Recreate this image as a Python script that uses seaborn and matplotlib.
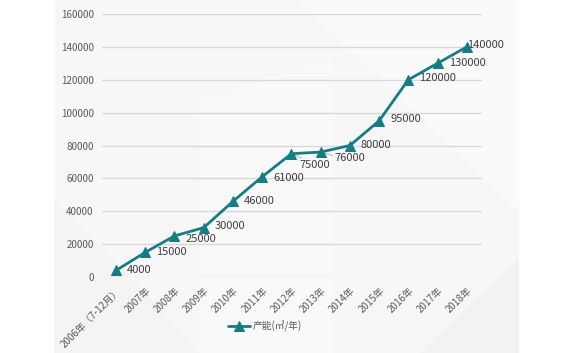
import matplotlib
matplotlib.use("Agg")
import matplotlib.pyplot as plt
import seaborn as sns
import pandas as pd
from matplotlib.patches import Rectangle, Polygon

# data
years = ["2006年（7-12月）", "2007年", "2008年", "2009年", "2010年", "2011年", "2012年",
         "2013年", "2014年", "2015年", "2016年", "2017年", "2018年"]
capacity = [4000, 15000, 25000, 30000, 46000, 61000, 75000, 76000, 80000, 95000,
            120000, 130000, 140000]
yticks = [0, 20000, 40000, 60000, 80000, 100000, 120000, 140000, 160000]
series_name = "产能(㎡/年)"

# label offsets in points (dx, dy) relative to each point
label_offsets = [(8, 0), (8, 0), (8, -2), (8, 1), (8, 0), (8, -1), (6, -8),
                 (10, -4), (8, 0), (8, 1), (8, 1), (8, 0), (0, 1)]

df = pd.DataFrame({"year": years, "capacity": capacity, "series": series_name})

sns.set_theme(style="white")
plt.rcParams['font.family'] = ['Noto Sans CJK SC', 'DejaVu Sans']

teal = "#167d85"
fig = plt.figure(figsize=(5.76, 3.53), dpi=100)

# light backdrop panel with faint facets
fig.patches.append(Rectangle((55 / 576, 0), 463 / 576, 1, transform=fig.transFigure,
                             color="#f7f7f7", zorder=-3))
facets = [
    [(300, 0), (518, 0), (518, 210)],
    [(55, 200), (200, 353), (55, 353)],
    [(200, 100), (330, 60), (330, 353), (200, 353)],
    [(420, 353), (518, 260), (518, 353)],
]
for pts, c in zip(facets, ["#fafafa", "#f4f4f4", "#f9f9f9", "#f2f2f2"]):
    fig.patches.append(Polygon([(x / 576, 1 - y / 353) for x, y in pts],
                               transform=fig.transFigure, color=c, zorder=-2))

ax = fig.add_axes([102 / 576, 1 - 277 / 353, 380 / 576, 263 / 353])
ax.patch.set_alpha(0)

sns.lineplot(data=df, x="year", y="capacity", hue="series", palette=[teal],
             marker="^", markersize=7, markeredgecolor=teal, linewidth=2, sort=False, ax=ax)

for i, (v, (dx, dy)) in enumerate(zip(capacity, label_offsets)):
    ax.annotate(f"{v}", (i, v), xytext=(dx, dy), textcoords="offset points",
                ha="left", va="center", fontsize=8, color="#404040")
# leader lines for the crowded labels
ax.plot([6, 6.35], [75000, 72500], color="#bfbfbf", lw=0.8, zorder=1)
ax.plot([7, 7.4], [76000, 74000], color="#bfbfbf", lw=0.8, zorder=1)

ax.set_xlim(-0.48, 12.52)
ax.set_ylim(0, 160000)
ax.set_yticks(yticks)
ax.set_yticklabels([str(t) for t in yticks], fontsize=7, color="#595959")
ax.set_xticks(range(len(years)))
ax.set_xticklabels(years, rotation=45, ha="right", rotation_mode="anchor",
                   fontsize=7, color="#595959")
ax.tick_params(axis="both", length=0, pad=6)
ax.yaxis.grid(True, color="#d9d9d9", linewidth=1)
ax.set_axisbelow(True)
for s in ax.spines.values():
    s.set_visible(False)
ax.set_xlabel("")
ax.set_ylabel("")

leg = ax.legend(loc="center", bbox_to_anchor=((265 - 102) / 380, (277 - 326) / 263),
                frameon=False, fontsize=7, handlelength=2.2, handletextpad=0.3)
for t in leg.get_texts():
    t.set_color("#595959")

fig.savefig("out.png", dpi=100)
